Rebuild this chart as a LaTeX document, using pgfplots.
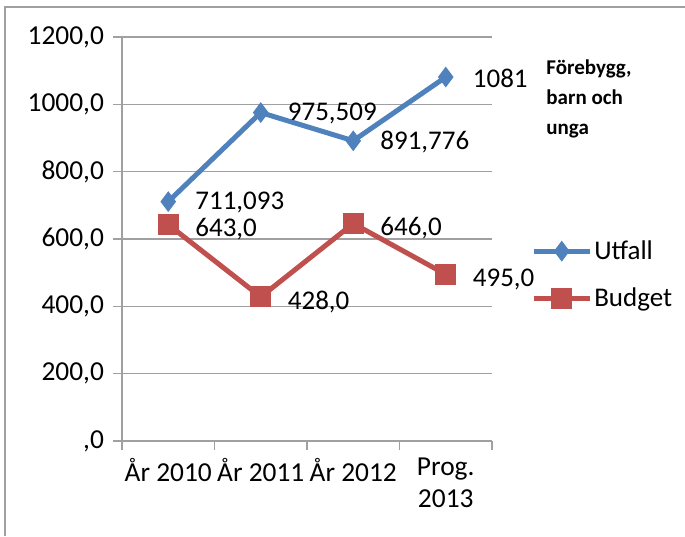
\documentclass[border=0pt]{standalone}
\usepackage{fontspec}
\setmainfont{Carlito}
\usepackage{pgfplots}
\pgfplotsset{compat=1.18}

\definecolor{utfall}{HTML}{4F81BD}
\definecolor{budget}{HTML}{C0504D}
\definecolor{gridc}{HTML}{A0A0A0}

\begin{document}
\begin{tikzpicture}[x=1pt,y=1pt]
\useasboundingbox (-61,-47.5) rectangle (281.5,220.5);
\draw[gridc,line width=0.8pt] (-58.5,-47.5) -- (-58.5,217) -- (281.5,217);
\begin{axis}[
    at={(0,0)}, anchor=south west,
    scale only axis,
    width=185pt, height=202pt,
    xmin=-0.5, xmax=3.5,
    ymin=0, ymax=1200,
    axis lines=left,
    axis line style={gridc, line width=0.8pt, -},
    ytick={0,200,...,1200},
    yticklabels={{,0},{200,0},{400,0},{600,0},{800,0},{1000,0},{1200,0}},
    ymajorgrids,
    grid style={gridc, line width=0.8pt},
    xtick={-0.5,0.5,1.5,2.5,3.5},
    xticklabels={},
    extra x ticks={0,1,2,3},
    extra x tick labels={År 2010,År 2011,År 2012,{Prog.\\2013}},
    extra x tick style={major tick length=0pt, grid=none,
        tick label style={align=center, yshift=-5pt}},
    tick style={gridc, line width=0.8pt},
    tick align=outside,
    major tick length=4.5pt,
    tick label style={font=\fontsize{13.7}{16}\selectfont, /pgf/number format/assume math mode=true},
    yticklabel style={xshift=-1pt},
    clip=false,
    nodes near coords,
    point meta=explicit symbolic,
    every node near coord/.append style={anchor=west, xshift=10pt,
        inner ysep=0pt, font=\fontsize{13.5}{15}\selectfont, text=black},
    legend style={at={(1.105,0.478)}, anchor=north west, yshift=6pt,
        draw=none, fill=none, font=\fontsize{13.5}{15}\selectfont,
        row sep=9pt, inner sep=0pt, nodes={inner xsep=1pt}},
    legend cell align=left,
    legend image code/.code={
        \draw[#1, mark repeat=2, mark phase=2] plot coordinates {(0pt,0pt) (14pt,0pt) (28pt,0pt)};
    },
]
\addplot[color=utfall, line width=2.5pt, mark=diamond*, mark size=4.8pt,
    mark options={solid, fill=utfall, line width=0.5pt},
    every node near coord/.append style={yshift=-0.5pt}]
    coordinates {(0,711.093)[711,093] (1,975.509)[975,509] (2,891.776)[891,776] (3,1081)[1081]};
\addlegendentry{Utfall}
\addplot[color=budget, line width=2.5pt, mark=square*, mark size=5pt,
    mark options={solid, fill=budget, line width=0.5pt},
    every node near coord/.append style={yshift=-2.5pt}]
    coordinates {(0,643)[643,0] (1,428)[428,0] (2,646)[646,0] (3,495)[495,0]};
\addlegendentry{Budget}
\end{axis}
\node[anchor=north west, align=left, font=\fontsize{10.5}{15}\selectfont\bfseries, inner sep=0pt]
    at (212,191) {Förebygg,\\barn och\\unga};
\end{tikzpicture}
\end{document}
